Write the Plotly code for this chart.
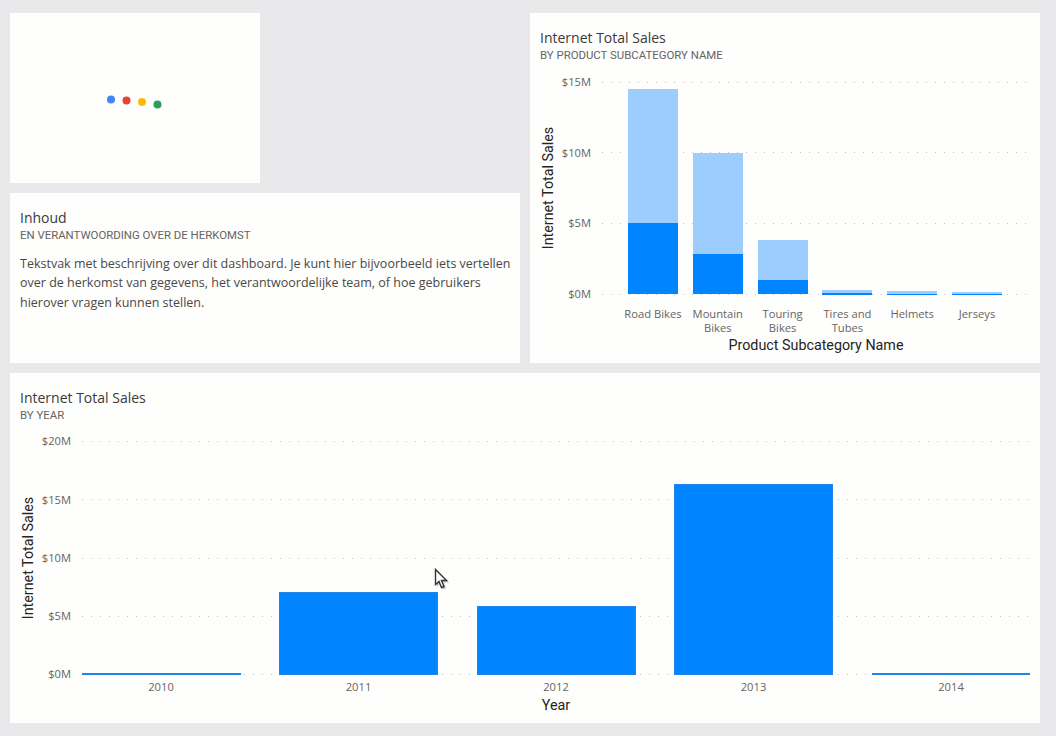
import plotly.graph_objects as go

W, H = 1056, 736

# chart data
subcategories = ["Road Bikes", "Mountain<br>Bikes", "Touring<br>Bikes",
                 "Tires and<br>Tubes", "Helmets", "Jerseys"]
sales_dark = [5.02, 2.83, 0.99, 0.09, 0.09, 0.08]
sales_light = [9.48, 7.14, 2.83, 0.16, 0.12, 0.08]
years = ["2010", "2011", "2012", "2013", "2014"]
sales_year = [0.05, 7.05, 5.84, 16.3, 0.05]

ticks_sub = [0, 5, 10, 15]
ticks_year = [0, 5, 10, 15, 20]

body_lines = [
    "Tekstvak met beschrijving over dit dashboard. Je kunt hier bijvoorbeeld iets vertellen",
    "over de herkomst van gegevens, het verantwoordelijke team, of hoe gebruikers",
    "hierover vragen kunnen stellen.",
]

DARK = "#0084ff"
LIGHT = "#9ccdfd"
PANEL = "#fefefc"
TITLE_FONT = dict(family="Open Sans", size=14, color="#3b3a39")
SUB_FONT = dict(family="Roboto", size=11.4, color="#666462")
BODY_FONT = dict(family="Open Sans", size=12.5, color="#4a4947")
TICK_FONT = dict(family="Open Sans", size=11.2, color="#666462")
AXIS_FONT = dict(family="Roboto", size=14.3, color="#252423")


def _fx(px):
    return px / W


def _fy(px):
    return 1 - px / H


def _panel(x0, y0, x1, y1):
    return dict(type="rect", xref="paper", yref="paper", layer="below",
                x0=_fx(x0), x1=_fx(x1), y0=_fy(y0), y1=_fy(y1),
                fillcolor=PANEL, line_width=0)


def _dot(cx, cy, color):
    return dict(type="circle", xref="paper", yref="paper",
                x0=_fx(cx - 4), x1=_fx(cx + 4), y0=_fy(cy - 4), y1=_fy(cy + 4),
                fillcolor=color, line_width=0)


def _text(x, y, text, font):
    return dict(x=_fx(x), y=_fy(y), xref="paper", yref="paper", text=text,
                font=font, showarrow=False, xanchor="left", yanchor="middle",
                xshift=-2)


def _cursor(x, y, fill, edge):
    pts = [(0, 0), (0, 15), (3.5, 12), (6, 18), (8.5, 17), (6, 11), (11, 11)]
    path = ""
    for i, (dx, dy) in enumerate(pts):
        path += ("M" if i == 0 else "L") + f"{_fx(x + dx)},{_fy(y + dy)} "
    return dict(type="path", xref="paper", yref="paper", path=path + "Z",
                fillcolor=fill, line=dict(color=edge, width=1.4))


fig = go.Figure()
fig.add_trace(go.Bar(x=subcategories, y=sales_dark, marker_color=DARK,
                     marker_line_width=0, xaxis="x", yaxis="y", name="Dark"))
fig.add_trace(go.Bar(x=subcategories, y=sales_light, marker_color=LIGHT,
                     marker_line_width=0, xaxis="x", yaxis="y", name="Light"))
fig.add_trace(go.Bar(x=years, y=sales_year, marker_color=DARK,
                     marker_line=dict(color="#1f86e8", width=1),
                     xaxis="x2", yaxis="y2", name="Year", width=0.8))

common_y = dict(showgrid=True, griddash="1px,8px", gridcolor="#c4c4c4",
                gridwidth=1, zeroline=False, showline=False, ticks="",
                tickfont=TICK_FONT, ticklabelstandoff=10, automargin=False)
common_x = dict(showgrid=False, zeroline=False, showline=False, ticks="",
                tickfont=TICK_FONT, type="category", automargin=False)

# ranges run a little past the ticks so the first and last gridlines are drawn
fig.update_layout(
    width=W, height=H, margin=dict(l=0, r=0, t=0, b=0), autosize=False,
    paper_bgcolor="#e9e9ec", plot_bgcolor="rgba(0,0,0,0)",
    showlegend=False, barmode="stack", bargap=0.23,
    xaxis=dict(common_x, domain=[_fx(602), _fx(1030)], range=[-0.786, 5.817],
               anchor="y", ticklabelstandoff=10,
               title=dict(text="Product Subcategory Name", font=AXIS_FONT, standoff=5)),
    yaxis=dict(common_y, domain=[_fy(295.41), _fy(80.59)], range=[-0.1, 15.1], anchor="x",
               tickvals=ticks_sub, ticktext=[f"${v}M" for v in ticks_sub],
               title=dict(text="Internet Total Sales", font=AXIS_FONT, standoff=4)),
    xaxis2=dict(common_x, domain=[_fx(82), _fx(1030)], range=[-0.4, 4.4],
                anchor="y2", ticklabelstandoff=3,
                title=dict(text="Year", font=AXIS_FONT, standoff=7)),
    yaxis2=dict(common_y, domain=[_fy(675.67), _fy(440.33)], range=[-0.1, 20.1], anchor="x2",
                tickvals=ticks_year, ticktext=[f"${v}M" for v in ticks_year],
                title=dict(text="Internet Total Sales", font=AXIS_FONT, standoff=4)),
    shapes=[
        _panel(10, 13, 260, 183),
        _panel(10, 193, 520, 363),
        _panel(530, 13, 1040, 363),
        _panel(10, 373, 1040, 723),
        _dot(111, 99.5, "#4285f4"),
        _dot(126.5, 100.5, "#ea4335"),
        _dot(142, 102, "#fbbc05"),
        _dot(157.5, 104.5, "#2e9e5b"),
        _cursor(437, 571, "rgba(120,120,120,0.35)", "rgba(120,120,120,0.25)"),
        _cursor(435.5, 569.5, "#ffffff", "#333333"),
    ],
    annotations=[
        _text(540, 38, "Internet Total Sales", TITLE_FONT),
        _text(540, 55, "BY PRODUCT SUBCATEGORY NAME", SUB_FONT),
        _text(20, 217, "Inhoud", TITLE_FONT),
        _text(20, 235, "EN VERANTWOORDING OVER DE HERKOMST", SUB_FONT),
        _text(20, 263, body_lines[0], BODY_FONT),
        _text(20, 282.5, body_lines[1], BODY_FONT),
        _text(20, 302, body_lines[2], BODY_FONT),
        _text(20, 397, "Internet Total Sales", TITLE_FONT),
        _text(20, 415, "BY YEAR", SUB_FONT),
    ],
)

fig.write_html("out.html", config=dict(displayModeBar=False),
               post_script="document.body.style.margin='0';document.body.style.overflow='hidden';")
